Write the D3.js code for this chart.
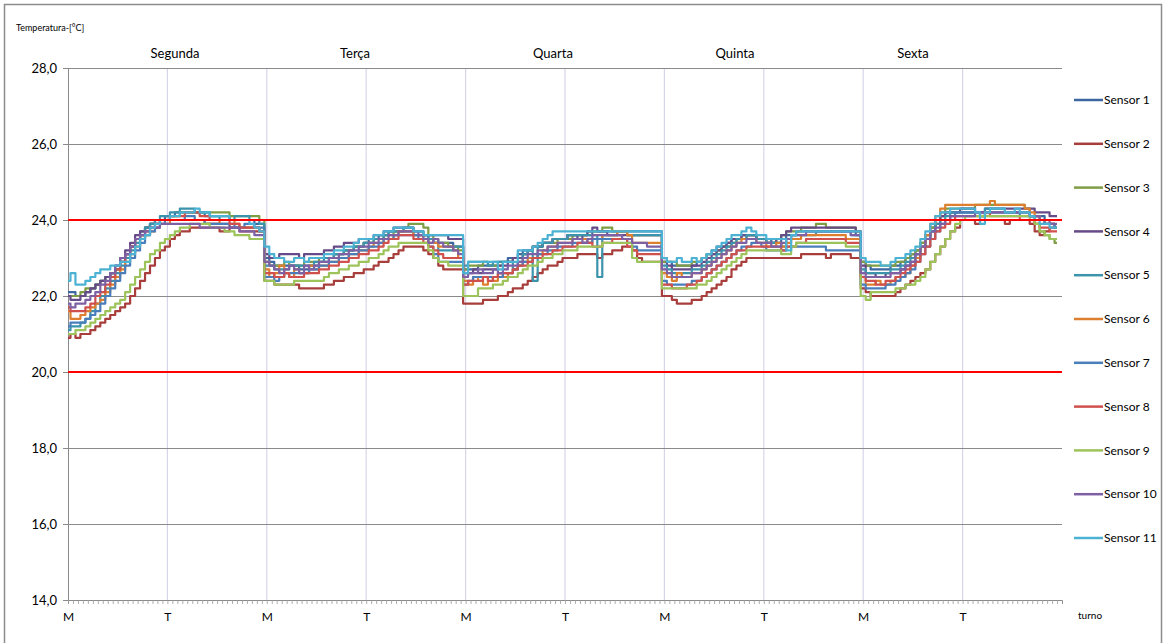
<!DOCTYPE html>
<html>
<head>
<meta charset="utf-8">
<script src="https://cdnjs.cloudflare.com/ajax/libs/d3/7.8.5/d3.min.js"></script>
<style>
    body { margin: 0; background: #fff; }
    text { font-family: Lato, "Noto Sans", sans-serif; fill: #000; }
</style>
</head>
<body>
<div id="chart"></div>
<script>
// Categories: five days, each split in a morning (M) and afternoon (T) shift
var days = ["Segunda", "Terça", "Quarta", "Quinta", "Sexta"];
var shifts = ["M", "T"];
var readingsPerShift = 20;

// Y axis ticks and comfort limits
var yTicks = [14, 16, 18, 20, 22, 24, 26, 28];
var limits = [24, 20];

var sensorNames = ["Sensor 1", "Sensor 2", "Sensor 3", "Sensor 4", "Sensor 5", "Sensor 6",
    "Sensor 7", "Sensor 8", "Sensor 9", "Sensor 10", "Sensor 11"];

// Readings (°C), one row per day
var sensor1 = [
    22.1, 22.1, 22.0, 22.0, 22.1, 22.2, 22.3, 22.4, 22.5, 22.6, 22.7, 22.9, 23.1, 23.3, 23.5, 23.7, 23.8, 23.9, 24.0, 24.0, 24.1, 24.1, 24.2, 24.2, 24.2, 24.2, 24.2, 24.2, 24.1, 24.1, 24.1, 24.1, 24.1, 24.0, 24.0, 24.0, 24.0, 24.0, 23.9, 23.9,
    23.0, 22.9, 22.8, 22.8, 22.8, 22.8, 22.8, 22.7, 22.7, 22.8, 22.8, 22.9, 22.9, 23.0, 23.1, 23.1, 23.2, 23.2, 23.3, 23.3, 23.4, 23.5, 23.5, 23.6, 23.6, 23.7, 23.7, 23.7, 23.7, 23.7, 23.6, 23.6, 23.6, 23.5, 23.4, 23.4, 23.4, 23.4, 23.3, 23.3,
    22.7, 22.7, 22.7, 22.8, 22.8, 22.8, 22.8, 22.9, 22.9, 23.0, 23.0, 23.1, 23.2, 23.2, 23.3, 23.3, 23.4, 23.4, 23.5, 23.5, 23.5, 23.6, 23.6, 23.6, 23.6, 23.6, 23.7, 23.7, 23.7, 23.7, 23.7, 23.7, 23.7, 23.7, 23.7, 23.7, 23.7, 23.7, 23.7, 23.7,
    22.9, 22.9, 22.8, 22.8, 22.8, 22.8, 22.8, 22.9, 23.0, 23.1, 23.2, 23.3, 23.3, 23.4, 23.5, 23.5, 23.6, 23.6, 23.6, 23.5, 23.5, 23.5, 23.4, 23.4, 23.5, 23.6, 23.6, 23.7, 23.7, 23.7, 23.7, 23.7, 23.7, 23.7, 23.7, 23.7, 23.7, 23.7, 23.7, 23.6,
    22.9, 22.8, 22.7, 22.7, 22.7, 22.7, 22.8, 22.8, 22.9, 23.0, 23.1, 23.2, 23.4, 23.6, 23.8, 24.0, 24.1, 24.2, 24.2, 24.2, 24.2, 24.2, 24.2, 24.2, 24.2, 24.2, 24.2, 24.2, 24.2, 24.2, 24.2, 24.2, 24.2, 24.2, 24.1, 24.1, 24.1, 24.0, 24.0, 24.0
];
var sensor2 = [
    20.9, 21.0, 20.9, 21.0, 21.0, 21.1, 21.2, 21.3, 21.4, 21.5, 21.6, 21.7, 21.8, 22.0, 22.2, 22.4, 22.6, 22.8, 23.0, 23.2, 23.3, 23.5, 23.6, 23.7, 23.7, 23.8, 23.8, 23.8, 23.8, 23.8, 23.8, 23.7, 23.7, 23.8, 23.8, 23.7, 23.7, 23.7, 23.7, 23.7,
    22.4, 22.4, 22.3, 22.3, 22.3, 22.3, 22.3, 22.2, 22.2, 22.2, 22.2, 22.2, 22.3, 22.3, 22.4, 22.4, 22.5, 22.5, 22.6, 22.6, 22.7, 22.7, 22.8, 22.9, 22.9, 23.0, 23.1, 23.2, 23.3, 23.3, 23.3, 23.3, 23.2, 23.1, 23.0, 22.8, 22.7, 22.7, 22.7, 22.7,
    21.8, 21.8, 21.8, 21.8, 21.9, 21.9, 21.9, 22.0, 22.0, 22.1, 22.2, 22.2, 22.3, 22.4, 22.5, 22.6, 22.7, 22.8, 22.8, 22.9, 23.0, 23.0, 23.0, 23.1, 23.1, 23.1, 23.1, 23.0, 23.1, 23.1, 23.2, 23.2, 23.3, 23.3, 23.2, 23.0, 22.9, 22.9, 22.9, 22.9,
    22.0, 22.0, 21.9, 21.8, 21.8, 21.8, 21.9, 21.9, 22.0, 22.1, 22.2, 22.3, 22.4, 22.5, 22.7, 22.8, 22.9, 23.0, 23.0, 23.0, 23.0, 23.0, 23.0, 23.0, 23.0, 23.0, 23.0, 23.0, 23.1, 23.1, 23.1, 23.1, 23.1, 23.0, 23.1, 23.1, 23.1, 23.1, 23.0, 23.0,
    22.2, 22.1, 22.0, 22.0, 22.0, 22.0, 22.0, 22.1, 22.2, 22.3, 22.4, 22.5, 22.6, 22.7, 22.9, 23.1, 23.3, 23.5, 23.7, 23.8, 24.0, 24.0, 24.0, 23.9, 24.0, 24.0, 24.0, 24.0, 24.0, 23.9, 24.0, 24.0, 24.0, 24.0, 23.9, 23.7, 23.6, 23.7, 23.8, 23.8
];
var sensor3 = [
    22.0, 22.0, 22.0, 22.1, 22.2, 22.2, 22.3, 22.4, 22.5, 22.6, 22.7, 22.9, 23.1, 23.3, 23.5, 23.6, 23.8, 23.9, 23.9, 24.0, 24.0, 24.1, 24.1, 24.2, 24.2, 24.2, 24.2, 24.2, 24.2, 24.2, 24.2, 24.2, 24.2, 24.1, 24.1, 24.1, 24.1, 24.1, 24.1, 24.0,
    22.9, 22.8, 22.8, 22.8, 22.9, 22.8, 22.8, 22.8, 22.9, 22.9, 22.9, 23.0, 23.0, 23.0, 23.1, 23.1, 23.2, 23.2, 23.3, 23.3, 23.4, 23.4, 23.5, 23.5, 23.6, 23.6, 23.7, 23.7, 23.8, 23.9, 23.9, 23.9, 23.8, 23.6, 23.5, 23.4, 23.4, 23.3, 23.3, 23.2,
    22.7, 22.8, 22.8, 22.8, 22.9, 22.8, 22.8, 22.8, 22.9, 22.9, 23.0, 23.0, 23.1, 23.2, 23.3, 23.3, 23.4, 23.4, 23.4, 23.5, 23.5, 23.5, 23.6, 23.6, 23.6, 23.7, 23.7, 23.7, 23.8, 23.8, 23.7, 23.7, 23.7, 23.6, 23.6, 23.6, 23.6, 23.6, 23.6, 23.6,
    22.9, 22.9, 22.9, 22.8, 22.8, 22.8, 22.9, 22.9, 23.0, 23.1, 23.1, 23.2, 23.3, 23.3, 23.4, 23.5, 23.5, 23.6, 23.6, 23.5, 23.5, 23.4, 23.4, 23.5, 23.6, 23.7, 23.7, 23.7, 23.8, 23.8, 23.8, 23.9, 23.9, 23.8, 23.8, 23.8, 23.8, 23.8, 23.8, 23.7,
    22.9, 22.8, 22.8, 22.8, 22.8, 22.8, 22.8, 22.9, 22.9, 23.0, 23.1, 23.2, 23.4, 23.6, 23.8, 24.0, 24.2, 24.3, 24.3, 24.3, 24.3, 24.3, 24.3, 24.4, 24.4, 24.4, 24.4, 24.4, 24.4, 24.4, 24.4, 24.4, 24.4, 24.3, 24.1, 23.9, 23.7, 23.6, 23.5, 23.4
];
var sensor4 = [
    22.0, 21.9, 21.9, 22.0, 22.1, 22.2, 22.3, 22.4, 22.5, 22.6, 22.8, 23.0, 23.2, 23.4, 23.6, 23.7, 23.8, 23.9, 23.9, 24.0, 24.0, 24.0, 24.0, 24.0, 24.0, 24.0, 24.0, 24.0, 23.9, 23.9, 23.9, 23.9, 23.9, 23.8, 23.8, 23.8, 23.8, 23.8, 23.8, 23.7,
    23.1, 23.0, 23.0, 23.1, 23.1, 23.1, 23.1, 23.0, 23.1, 23.1, 23.1, 23.1, 23.2, 23.2, 23.3, 23.3, 23.4, 23.4, 23.4, 23.5, 23.5, 23.5, 23.6, 23.6, 23.7, 23.7, 23.8, 23.8, 23.8, 23.8, 23.7, 23.7, 23.6, 23.6, 23.6, 23.6, 23.6, 23.5, 23.5, 23.5,
    22.6, 22.6, 22.7, 22.6, 22.7, 22.7, 22.7, 22.8, 22.8, 22.9, 23.0, 23.0, 23.1, 23.2, 23.3, 23.3, 23.4, 23.4, 23.5, 23.5, 23.5, 23.6, 23.6, 23.5, 23.6, 23.7, 23.8, 23.7, 23.7, 23.6, 23.6, 23.6, 23.6, 23.6, 23.6, 23.6, 23.6, 23.6, 23.6, 23.6,
    23.0, 22.8, 22.7, 22.7, 22.7, 22.7, 22.8, 22.8, 22.9, 23.0, 23.1, 23.2, 23.3, 23.4, 23.5, 23.5, 23.6, 23.6, 23.6, 23.5, 23.5, 23.4, 23.4, 23.5, 23.6, 23.7, 23.8, 23.8, 23.8, 23.8, 23.8, 23.8, 23.8, 23.8, 23.8, 23.8, 23.8, 23.8, 23.8, 23.7,
    22.8, 22.6, 22.6, 22.5, 22.5, 22.6, 22.6, 22.6, 22.7, 22.8, 22.9, 23.1, 23.3, 23.5, 23.7, 23.9, 24.1, 24.2, 24.2, 24.2, 24.3, 24.3, 24.3, 24.2, 24.2, 24.3, 24.3, 24.3, 24.3, 24.3, 24.3, 24.3, 24.3, 24.3, 24.3, 24.2, 24.2, 24.2, 24.1, 24.1
];
var sensor5 = [
    21.1, 21.2, 21.2, 21.3, 21.4, 21.6, 21.8, 22.0, 22.2, 22.4, 22.6, 22.8, 23.0, 23.2, 23.4, 23.6, 23.8, 23.9, 24.0, 24.1, 24.1, 24.2, 24.2, 24.3, 24.3, 24.3, 24.2, 24.2, 24.2, 24.1, 24.1, 24.0, 24.0, 24.0, 24.1, 24.1, 24.1, 24.0, 24.0, 23.9,
    22.8, 22.8, 22.7, 22.7, 22.7, 22.8, 22.8, 22.8, 22.8, 22.8, 22.9, 22.9, 23.0, 23.0, 23.1, 23.1, 23.2, 23.2, 23.3, 23.3, 23.4, 23.4, 23.5, 23.5, 23.6, 23.7, 23.7, 23.7, 23.8, 23.8, 23.7, 23.7, 23.6, 23.5, 23.4, 23.2, 23.2, 23.2, 23.3, 23.3,
    22.8, 22.9, 22.9, 22.9, 22.9, 22.8, 22.9, 22.9, 22.9, 22.9, 22.7, 22.9, 23.1, 23.2, 22.4, 23.3, 23.4, 23.4, 23.5, 23.5, 23.5, 23.6, 23.6, 23.6, 23.6, 23.6, 23.6, 22.5, 23.6, 23.6, 23.6, 23.7, 23.7, 23.6, 23.6, 23.6, 23.6, 23.6, 23.6, 23.6,
    22.8, 22.7, 22.6, 22.6, 22.6, 22.6, 22.7, 22.7, 22.8, 22.9, 23.0, 23.1, 23.2, 23.3, 23.4, 23.5, 23.5, 23.6, 23.6, 23.5, 23.5, 23.4, 23.4, 23.4, 23.3, 23.5, 23.6, 23.6, 23.6, 23.6, 23.6, 23.7, 23.7, 23.7, 23.7, 23.7, 23.7, 23.7, 23.6, 23.6,
    22.7, 22.6, 22.6, 22.6, 22.6, 22.6, 22.7, 22.7, 22.8, 22.9, 23.0, 23.1, 23.3, 23.5, 23.7, 23.9, 24.0, 24.1, 24.2, 24.2, 24.2, 24.2, 24.2, 24.2, 24.1, 24.3, 24.3, 24.3, 24.3, 24.2, 24.2, 24.2, 24.2, 24.2, 24.1, 24.1, 24.0, 23.9, 23.9, 23.8
];
var sensor6 = [
    21.6, 21.4, 21.4, 21.5, 21.6, 21.7, 21.8, 21.9, 22.1, 22.3, 22.5, 22.7, 22.9, 23.1, 23.3, 23.5, 23.6, 23.7, 23.8, 23.9, 23.9, 24.0, 24.0, 24.0, 24.0, 24.0, 24.0, 24.0, 23.9, 23.9, 23.9, 24.0, 24.0, 24.0, 23.9, 23.8, 23.8, 23.8, 23.8, 23.7,
    22.7, 22.5, 22.6, 22.8, 22.6, 22.5, 22.7, 22.6, 22.6, 22.8, 22.7, 22.8, 22.8, 22.9, 22.9, 23.0, 23.0, 23.1, 23.1, 23.2, 23.2, 23.3, 23.4, 23.4, 23.5, 23.5, 23.6, 23.7, 23.7, 23.7, 23.6, 23.6, 23.5, 23.4, 23.4, 23.3, 23.3, 23.3, 23.2, 23.0,
    22.4, 22.3, 22.5, 22.4, 22.3, 22.5, 22.4, 22.6, 22.5, 22.6, 22.7, 22.8, 22.9, 23.0, 23.0, 23.1, 23.2, 23.3, 23.3, 23.4, 23.4, 23.4, 23.5, 23.5, 23.5, 23.4, 23.5, 23.5, 23.6, 23.6, 23.6, 23.7, 23.7, 23.6, 23.4, 23.4, 23.4, 23.4, 23.4, 23.4,
    22.6, 22.5, 22.4, 22.6, 22.5, 22.5, 22.6, 22.6, 22.7, 22.8, 22.9, 23.0, 23.1, 23.2, 23.3, 23.4, 23.5, 23.5, 23.5, 23.4, 23.4, 23.3, 23.3, 23.4, 23.3, 23.4, 23.5, 23.5, 23.6, 23.6, 23.6, 23.6, 23.6, 23.6, 23.6, 23.6, 23.6, 23.5, 23.5, 23.5,
    22.5, 22.3, 22.3, 22.4, 22.3, 22.3, 22.4, 22.5, 22.5, 22.6, 22.8, 23.0, 23.3, 23.6, 23.9, 24.1, 24.3, 24.4, 24.4, 24.4, 24.4, 24.4, 24.4, 24.4, 24.4, 24.4, 24.5, 24.4, 24.4, 24.4, 24.4, 24.4, 24.4, 24.3, 24.2, 24.1, 24.0, 23.9, 23.9, 23.8
];
var sensor7 = [
    21.2, 21.3, 21.3, 21.3, 21.4, 21.5, 21.6, 21.8, 22.0, 22.2, 22.4, 22.6, 22.8, 23.0, 23.2, 23.4, 23.6, 23.7, 23.8, 23.9, 24.0, 24.0, 24.0, 24.0, 24.1, 24.1, 24.0, 24.0, 23.9, 23.9, 23.9, 23.9, 23.9, 23.9, 23.8, 23.8, 23.9, 23.9, 23.8, 23.8,
    22.5, 22.5, 22.4, 22.5, 22.6, 22.6, 22.6, 22.6, 22.6, 22.7, 22.7, 22.8, 22.8, 22.9, 22.9, 23.0, 23.0, 23.1, 23.1, 23.2, 23.2, 23.3, 23.3, 23.4, 23.5, 23.5, 23.6, 23.6, 23.6, 23.6, 23.6, 23.5, 23.5, 23.3, 23.1, 22.9, 22.9, 22.9, 22.9, 22.9,
    22.3, 22.4, 22.5, 22.5, 22.5, 22.5, 22.5, 22.5, 22.6, 22.6, 22.7, 22.8, 22.9, 22.9, 23.0, 23.1, 23.1, 23.2, 23.2, 23.3, 23.3, 23.3, 23.4, 23.4, 23.4, 23.4, 23.5, 23.5, 23.5, 23.5, 23.5, 23.5, 23.5, 23.4, 23.3, 23.2, 23.2, 23.2, 23.2, 23.2,
    22.4, 22.3, 22.3, 22.3, 22.3, 22.3, 22.4, 22.4, 22.5, 22.6, 22.7, 22.8, 22.9, 23.0, 23.1, 23.2, 23.3, 23.3, 23.4, 23.4, 23.3, 23.2, 23.2, 23.2, 23.2, 23.3, 23.3, 23.3, 23.3, 23.3, 23.3, 23.3, 23.3, 23.2, 23.2, 23.2, 23.2, 23.2, 23.2, 23.2,
    22.3, 22.2, 22.2, 22.2, 22.2, 22.3, 22.3, 22.4, 22.5, 22.6, 22.7, 22.9, 23.1, 23.3, 23.5, 23.7, 23.9, 24.0, 24.1, 24.2, 24.2, 24.2, 24.2, 24.2, 24.1, 24.2, 24.2, 24.2, 24.2, 24.2, 24.2, 24.2, 24.1, 24.1, 24.1, 24.0, 24.0, 23.9, 23.9, 23.8
];
var sensor8 = [
    21.7, 21.6, 21.6, 21.6, 21.7, 21.8, 22.0, 22.1, 22.3, 22.5, 22.7, 22.9, 23.1, 23.3, 23.5, 23.6, 23.7, 23.8, 23.9, 24.0, 24.0, 24.1, 24.1, 24.1, 24.2, 24.2, 24.2, 24.1, 24.1, 24.0, 24.0, 24.0, 24.0, 23.9, 23.9, 23.8, 23.8, 23.8, 23.8, 23.7,
    22.6, 22.6, 22.5, 22.5, 22.6, 22.5, 22.5, 22.5, 22.6, 22.6, 22.6, 22.7, 22.7, 22.8, 22.8, 22.9, 22.9, 23.0, 23.0, 23.1, 23.1, 23.2, 23.2, 23.3, 23.4, 23.5, 23.5, 23.6, 23.6, 23.6, 23.5, 23.5, 23.4, 23.3, 23.2, 23.1, 23.0, 23.0, 23.0, 23.0,
    22.3, 22.4, 22.4, 22.4, 22.5, 22.4, 22.5, 22.6, 22.6, 22.6, 22.7, 22.8, 22.8, 22.9, 23.0, 23.0, 23.1, 23.1, 23.2, 23.2, 23.3, 23.3, 23.3, 23.4, 23.4, 23.4, 23.3, 23.3, 23.4, 23.4, 23.5, 23.5, 23.5, 23.3, 23.2, 23.1, 23.1, 23.1, 23.1, 23.1,
    22.3, 22.3, 22.2, 22.2, 22.2, 22.3, 22.3, 22.4, 22.5, 22.6, 22.7, 22.8, 22.9, 23.0, 23.1, 23.2, 23.2, 23.3, 23.3, 23.3, 23.3, 23.3, 23.3, 23.3, 23.2, 23.3, 23.3, 23.4, 23.4, 23.5, 23.5, 23.5, 23.5, 23.5, 23.5, 23.5, 23.5, 23.4, 23.4, 23.4,
    22.5, 22.4, 22.4, 22.3, 22.3, 22.4, 22.4, 22.5, 22.6, 22.7, 22.8, 22.9, 23.1, 23.3, 23.5, 23.7, 23.8, 23.9, 24.0, 24.1, 24.1, 24.1, 24.1, 24.1, 24.1, 24.2, 24.1, 24.1, 24.1, 24.1, 24.1, 24.1, 24.0, 24.0, 24.0, 23.9, 23.8, 23.8, 23.7, 23.7
];
var sensor9 = [
    21.0, 21.0, 21.1, 21.1, 21.2, 21.3, 21.4, 21.5, 21.6, 21.7, 21.8, 21.9, 22.1, 22.3, 22.5, 22.7, 22.9, 23.1, 23.2, 23.4, 23.5, 23.6, 23.7, 23.8, 23.8, 23.9, 23.9, 23.9, 23.9, 23.8, 23.8, 23.8, 23.7, 23.7, 23.6, 23.6, 23.6, 23.5, 23.5, 23.5,
    22.4, 22.4, 22.3, 22.3, 22.3, 22.3, 22.4, 22.4, 22.4, 22.4, 22.4, 22.4, 22.5, 22.6, 22.6, 22.7, 22.7, 22.8, 22.8, 22.9, 22.9, 23.0, 23.0, 23.1, 23.2, 23.3, 23.3, 23.4, 23.4, 23.4, 23.4, 23.4, 23.4, 23.2, 23.0, 22.9, 22.9, 22.8, 22.8, 22.8,
    22.0, 22.0, 22.0, 22.2, 22.2, 22.2, 22.3, 22.3, 22.4, 22.5, 22.5, 22.6, 22.7, 22.8, 22.8, 22.9, 23.0, 23.0, 23.1, 23.1, 23.2, 23.2, 23.2, 23.3, 23.3, 23.3, 23.3, 23.3, 23.4, 23.4, 23.4, 23.4, 23.4, 23.4, 23.0, 22.9, 22.9, 22.9, 22.9, 22.9,
    22.2, 22.2, 22.2, 22.2, 22.2, 22.2, 22.2, 22.3, 22.3, 22.4, 22.5, 22.6, 22.7, 22.8, 22.9, 23.0, 23.1, 23.2, 23.2, 23.2, 23.2, 23.2, 23.2, 23.2, 23.1, 23.1, 23.3, 23.4, 23.4, 23.4, 23.4, 23.4, 23.4, 23.4, 23.4, 23.4, 23.4, 23.3, 23.3, 23.3,
    22.0, 21.9, 22.1, 22.1, 22.1, 22.1, 22.1, 22.2, 22.2, 22.3, 22.3, 22.4, 22.5, 22.7, 22.9, 23.1, 23.3, 23.5, 23.7, 23.9, 24.0, 24.1, 24.1, 24.1, 24.1, 24.1, 24.1, 24.1, 24.1, 24.1, 24.1, 24.1, 24.1, 24.1, 24.0, 23.9, 23.7, 23.6, 23.5, 23.5
];
var sensor10 = [
    21.8, 21.7, 21.8, 21.8, 21.9, 22.0, 22.1, 22.3, 22.4, 22.6, 22.8, 23.0, 23.1, 23.3, 23.5, 23.6, 23.7, 23.8, 23.8, 23.9, 23.9, 23.9, 23.9, 23.9, 23.9, 23.9, 23.9, 23.8, 23.8, 23.8, 23.8, 23.8, 23.8, 23.8, 23.8, 23.7, 23.7, 23.7, 23.6, 23.6,
    22.9, 22.8, 22.7, 22.6, 22.7, 22.8, 22.7, 22.6, 22.8, 22.7, 22.8, 22.9, 22.9, 23.0, 23.0, 23.1, 23.1, 23.2, 23.2, 23.3, 23.3, 23.4, 23.4, 23.5, 23.5, 23.6, 23.6, 23.7, 23.7, 23.7, 23.7, 23.6, 23.5, 23.4, 23.5, 23.4, 23.3, 23.3, 23.2, 23.1,
    22.5, 22.6, 22.6, 22.7, 22.6, 22.6, 22.7, 22.6, 22.7, 22.8, 22.8, 22.9, 23.0, 23.1, 23.1, 23.2, 23.2, 23.3, 23.3, 23.4, 23.4, 23.4, 23.5, 23.5, 23.4, 23.5, 23.6, 23.6, 23.6, 23.6, 23.6, 23.6, 23.5, 23.5, 23.4, 23.4, 23.4, 23.3, 23.3, 23.3,
    22.7, 22.6, 22.5, 22.5, 22.5, 22.5, 22.6, 22.6, 22.7, 22.8, 22.9, 23.0, 23.1, 23.2, 23.3, 23.4, 23.4, 23.5, 23.5, 23.4, 23.4, 23.4, 23.3, 23.3, 23.4, 23.5, 23.6, 23.6, 23.6, 23.7, 23.7, 23.7, 23.7, 23.7, 23.7, 23.7, 23.7, 23.7, 23.6, 23.6,
    22.6, 22.5, 22.5, 22.5, 22.5, 22.5, 22.6, 22.6, 22.7, 22.8, 22.9, 23.1, 23.3, 23.5, 23.7, 23.8, 23.9, 24.0, 24.1, 24.1, 24.1, 24.1, 24.1, 24.2, 24.2, 24.2, 24.2, 24.2, 24.2, 24.2, 24.2, 24.2, 24.2, 24.2, 24.1, 24.1, 24.0, 24.0, 23.9, 23.9
];
var sensor11 = [
    22.4, 22.6, 22.3, 22.3, 22.4, 22.5, 22.6, 22.7, 22.7, 22.8, 22.8, 22.9, 22.9, 23.1, 23.3, 23.5, 23.6, 23.8, 23.9, 24.0, 24.0, 24.1, 24.1, 24.2, 24.2, 24.2, 24.3, 24.2, 24.2, 24.1, 24.1, 24.1, 24.1, 24.0, 24.0, 24.0, 24.0, 23.9, 23.8, 23.7,
    23.3, 23.1, 23.0, 23.0, 22.9, 22.9, 23.0, 23.0, 22.9, 23.0, 23.0, 23.0, 23.1, 23.1, 23.2, 23.2, 23.3, 23.3, 23.4, 23.5, 23.5, 23.5, 23.6, 23.6, 23.7, 23.7, 23.8, 23.8, 23.8, 23.8, 23.7, 23.7, 23.6, 23.6, 23.6, 23.6, 23.6, 23.6, 23.6, 23.6,
    22.6, 22.9, 22.9, 22.9, 22.9, 22.9, 22.9, 22.7, 22.9, 22.9, 22.9, 23.2, 23.2, 23.2, 23.3, 23.4, 23.5, 23.6, 23.7, 23.7, 23.7, 23.7, 23.7, 23.7, 23.7, 23.7, 23.7, 23.7, 23.7, 23.7, 23.7, 23.7, 23.7, 23.7, 23.7, 23.7, 23.7, 23.7, 23.7, 23.7,
    23.0, 22.9, 22.9, 23.0, 22.9, 22.9, 23.0, 22.9, 23.0, 23.1, 23.2, 23.3, 23.4, 23.5, 23.6, 23.6, 23.7, 23.8, 23.7, 23.6, 23.6, 23.5, 23.5, 23.5, 23.5, 23.2, 23.6, 23.7, 23.7, 23.7, 23.7, 23.7, 23.7, 23.7, 23.7, 23.7, 23.7, 23.7, 23.7, 23.7,
    23.0, 22.9, 22.9, 22.9, 22.8, 22.8, 22.9, 23.0, 23.0, 23.1, 23.2, 23.3, 23.5, 23.7, 23.9, 24.1, 24.2, 24.2, 24.3, 24.3, 24.3, 24.3, 24.3, 24.2, 23.9, 24.2, 24.3, 24.3, 24.3, 24.2, 24.2, 24.3, 24.2, 24.2, 24.1, 24.0, 23.9, 23.9, 23.8, 23.8
];

var sensorValues = [sensor1, sensor2, sensor3, sensor4, sensor5, sensor6,
    sensor7, sensor8, sensor9, sensor10, sensor11];
var sensorColors = ["#3d67a1", "#a83e3b", "#7f9d45", "#664b88", "#3b93ac", "#de7f2f",
    "#4a7ebb", "#cf504c", "#9dc35b", "#7e60a4", "#4cb2d4"];

// Define SVG area dimensions
var svgWidth = 1166;
var svgHeight = 643;

var plot = { left: 68, right: 1062, top: 68, bottom: 600 };

// Hand placed day headers (as in the original sheet)
var dayLabelX = [175, 355, 553, 735, 913];

var svg = d3.select("#chart")
    .append("svg")
    .attr("width", svgWidth)
    .attr("height", svgHeight);

// outer frame
svg.append("rect")
    .attr("x", 4.5)
    .attr("y", 4.5)
    .attr("width", 1157)
    .attr("height", 650)
    .attr("fill", "none")
    .attr("stroke", "#8c8c8c")
    .attr("stroke-width", 1.5);

// Category index for every reading
var nPoints = days.length * shifts.length * readingsPerShift;
var idx = d3.range(nPoints);

// one slot per reading, the axis runs up to the next (missing) Monday
var xScale = d3.scaleLinear()
    .domain([0, nPoints])
    .range([plot.left, plot.right]);

var yScale = d3.scaleLinear()
    .domain([d3.min(yTicks), d3.max(yTicks)])
    .range([plot.bottom, plot.top]);

// vertical grid at every shift start
var shiftStarts = idx.filter(i => i % readingsPerShift === 0 && i > 0);
svg.append("g")
    .selectAll("line")
    .data(shiftStarts)
    .enter()
    .append("line")
    .attr("x1", d => xScale(d))
    .attr("x2", d => xScale(d))
    .attr("y1", plot.top)
    .attr("y2", plot.bottom)
    .attr("stroke", "#d6d6ea")
    .attr("stroke-width", 1.2);

// horizontal grid
svg.append("g")
    .selectAll("line")
    .data(yTicks.filter(t => t > d3.min(yTicks)))
    .enter()
    .append("line")
    .attr("x1", plot.left)
    .attr("x2", plot.right)
    .attr("y1", d => Math.round(yScale(d)) + 0.5)
    .attr("y2", d => Math.round(yScale(d)) + 0.5)
    .attr("stroke", "#8a8a8a")
    .attr("stroke-width", 1);

// Y axis
var leftAxis = d3.axisLeft(yScale)
    .tickValues(yTicks)
    .tickSize(5)
    .tickPadding(6)
    .tickFormat(d => d3.format(".1f")(d).replace(".", ","));
var yAxis = svg.append("g")
    .attr("transform", `translate(${plot.left}, 0)`)
    .call(leftAxis);
yAxis.select(".domain").attr("stroke", "#8a8a8a");
yAxis.selectAll(".tick line").attr("stroke", "#8a8a8a");
yAxis.selectAll("text")
    .style("font-size", "13px")
    .attr("fill", "#000");

// X axis: a tick for every reading, a label at every shift
var bottomAxis = d3.axisBottom(xScale)
    .tickValues(idx)
    .tickSize(4)
    .tickPadding(8)
    .tickFormat(d => d % readingsPerShift === 0 ? shifts[(d / readingsPerShift) % shifts.length] : "");
var xAxis = svg.append("g")
    .attr("transform", `translate(0, ${plot.bottom})`)
    .call(bottomAxis);
xAxis.select(".domain").attr("stroke", "#8a8a8a");
xAxis.selectAll(".tick line").attr("stroke", "#9a9a9a").attr("stroke-width", 0.8);
xAxis.selectAll("text")
    .style("font-size", "12px")
    .attr("fill", "#000");

// Lines
var line = d3.line()
    .x((d, i) => xScale(i))
    .y(d => yScale(d))
    .curve(d3.curveStep);

svg.append("g")
    .selectAll("path")
    .data(sensorValues)
    .enter()
    .append("path")
    .attr("d", d => line(d))
    .attr("fill", "none")
    .attr("stroke", (d, i) => sensorColors[i])
    .attr("stroke-width", 2.2)
    .attr("stroke-linejoin", "round");

// comfort limits
svg.append("g")
    .selectAll("line")
    .data(limits)
    .enter()
    .append("line")
    .attr("x1", plot.left)
    .attr("x2", plot.right)
    .attr("y1", d => yScale(d))
    .attr("y2", d => yScale(d))
    .attr("stroke", "#ff0000")
    .attr("stroke-width", 2);

// Day headers
svg.append("g")
    .selectAll("text")
    .data(days)
    .enter()
    .append("text")
    .attr("x", (d, i) => dayLabelX[i])
    .attr("y", 58)
    .attr("text-anchor", "middle")
    .style("font-size", "13px")
    .text(d => d);

// Axis titles
svg.append("text")
    .attr("x", 16)
    .attr("y", 31)
    .style("font-size", "9px")
    .text("Temperatura-[°C]");

svg.append("text")
    .attr("x", 1078)
    .attr("y", 619)
    .style("font-size", "10px")
    .text("turno");

// Legend
var legend = svg.append("g")
    .selectAll("g")
    .data(sensorNames)
    .enter()
    .append("g")
    .attr("transform", (d, i) => `translate(1074, ${100 + i * 43.8})`);
legend.append("line")
    .attr("x1", 0)
    .attr("x2", 29)
    .attr("stroke", (d, i) => sensorColors[i])
    .attr("stroke-width", 2.5);
legend.append("text")
    .attr("x", 30)
    .attr("dy", "0.35em")
    .style("font-size", "12px")
    .text(d => d);
</script>
</body>
</html>
